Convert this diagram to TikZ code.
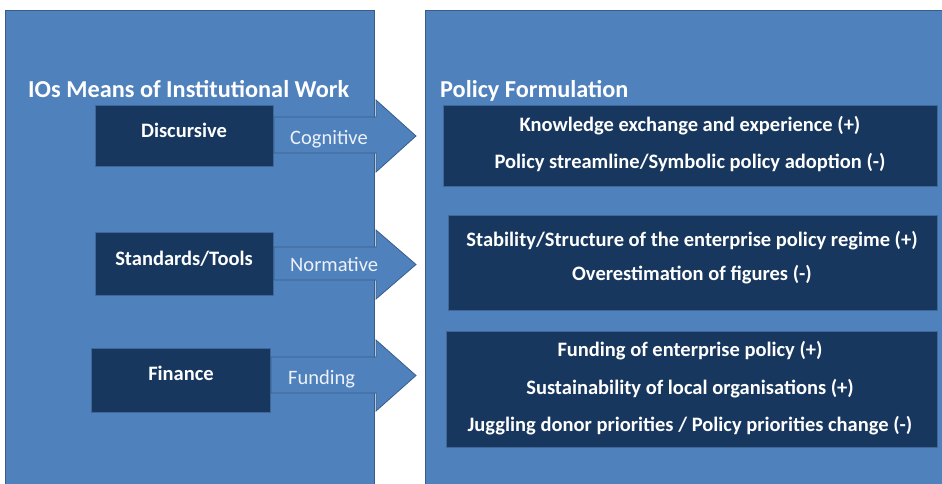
\documentclass[tikz,border=0pt]{standalone}
\usepackage{fontspec}
\setmainfont{Carlito}
\definecolor{lightblue}{HTML}{4F81BD}
\definecolor{darkbox}{HTML}{17375E}
\definecolor{edgeblue}{HTML}{385D8A}
\definecolor{labelwhite}{HTML}{EEF2F8}
\begin{document}
\begin{tikzpicture}[x=1pt,y=-1pt,
  panel/.style={fill=lightblue,draw=edgeblue,line width=0.8pt},
  darkpanel/.style={fill=darkbox,draw=edgeblue!70!lightblue,line width=1pt},
  blockarrow/.style={fill=lightblue,draw=edgeblue,line width=0.8pt,line join=miter},
  ttl/.style={text=white,font=\fontsize{24.3}{28}\selectfont\bfseries,inner sep=0pt,anchor=base west},
  itm/.style={text=white,font=\fontsize{20.5}{24}\selectfont\bfseries,inner sep=0pt,anchor=base},
  lbl/.style={text=labelwhite,font=\fontsize{20.5}{24}\selectfont,inner sep=0pt,anchor=base west}]
\useasboundingbox (0,0) rectangle (942,483);
\fill[white] (0,0) rectangle (942,483);
% big panels
\draw[panel] (5,10) rectangle (374,486);
\draw[panel] (425,10) rectangle (946,486);
\node[ttl] (t1) at (28,97) {IOs Means of Institutional Work};
\node[ttl] (t2) at (440,97) {Policy Formulation};
% left dark boxes
\draw[darkpanel] (95,105) rectangle (273,166);
\node[itm] (disc) at (184,137) {Discursive};
\draw[darkpanel] (95,232) rectangle (273,295);
\node[itm] (std) at (184,265) {Standards/Tools};
\draw[darkpanel] (91,348) rectangle (270,412);
\node[itm] (fin) at (181,380) {Finance};
% block arrows
\draw[blockarrow] (274,117) -- (376,117) -- (376,100) -- (416,136) -- (376,172) -- (376,153) -- (274,153) -- cycle;
\draw[blockarrow] (274,247) -- (376,247) -- (376,230) -- (416,264.5) -- (376,299) -- (376,280) -- (274,280) -- cycle;
\draw[blockarrow] (271,357) -- (376,357) -- (376,340) -- (416,375.5) -- (376,411) -- (376,393) -- (271,393) -- cycle;
\node[lbl] (l1) at (290,144) {Cognitive};
\node[lbl] (l2) at (290,271) {Normative};
\node[lbl] (l3) at (288,384) {Funding};
% right dark boxes
\draw[darkpanel] (443,105) rectangle (937,186);
\node[itm] (r11) at (690,131) {Knowledge exchange and experience (+)};
\node[itm] (r12) at (690,168) {Policy streamline/Symbolic policy adoption (-)};
\draw[darkpanel] (448,215) rectangle (937,310);
\node[itm] (r21) at (692,246) {Stability/Structure of the enterprise policy regime (+)};
\node[itm] (r22) at (692,280) {Overestimation of figures (-)};
\draw[darkpanel] (446,331) rectangle (937,447);
\node[itm] (r31) at (690,356) {Funding of enterprise policy (+)};
\node[itm] (r32) at (690,394) {Sustainability of local organisations (+)};
\node[itm] (r33) at (690,431) {Juggling donor priorities / Policy priorities change (-)};
\end{tikzpicture}
\end{document}
